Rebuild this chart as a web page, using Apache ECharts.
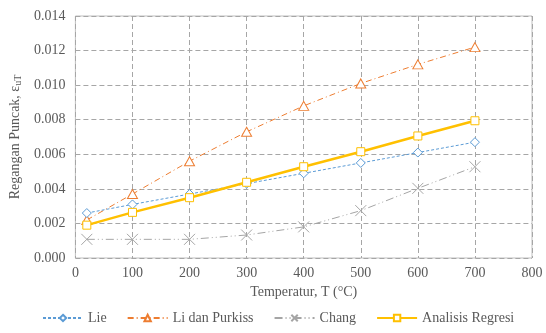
<!DOCTYPE html>
<html><head><meta charset="utf-8">
<script src="https://cdn.jsdelivr.net/npm/echarts@6/dist/echarts.min.js"></script>
<style>html,body{margin:0;padding:0;background:#fff}#c{width:546px;height:333px}</style>
</head><body><div id="c"></div>
<script>
const temps = [20, 100, 200, 300, 400, 500, 600, 700];
const lie = [0.0026, 0.0031, 0.0037, 0.0043, 0.0049, 0.0055, 0.0061, 0.0067];
const liPurkiss = [0.0022, 0.0037, 0.0056, 0.0073, 0.0088, 0.0101, 0.0112, 0.0122];
const chang = [0.00108, 0.00108, 0.00108, 0.00133, 0.0018, 0.00274, 0.00403, 0.00528];
const regresi = [0.0019, 0.00264, 0.00349, 0.00438, 0.00528, 0.00615, 0.00706, 0.00794];
const seriesNames = ['Lie', 'Li dan Purkiss', 'Chang', 'Analisis Regresi'];

const font = 'Liberation Serif, Times New Roman, serif';
const txt = '#595959';
const fs = 14;
const pairs = arr => temps.map((t, i) => [t, arr[i]]);
const hollow = c => ({ color: '#fff', borderColor: c, borderWidth: 1 });

const chart = echarts.init(document.getElementById('c'));
chart.setOption({
  animation: false,
  textStyle: { fontFamily: font },
  grid: { left: 73.5, right: 14, top: 16, bottom: 75, show: true, borderColor: '#bfbfbf', borderWidth: 1 },
  xAxis: {
    type: 'value', min: 0, max: 800, interval: 100,
    name: 'Temperatur, T (°C)', nameLocation: 'middle', nameGap: 25,
    nameTextStyle: { fontFamily: font, fontSize: fs, color: txt },
    axisLine: { show: false }, axisTick: { show: false },
    axisLabel: { fontFamily: font, fontSize: fs, color: txt, margin: 8 },
    splitLine: { lineStyle: { type: [5, 3], color: '#a6a6a6', width: 1 } }
  },
  yAxis: {
    type: 'value', min: 0, max: 0.014, interval: 0.002,
    name: '{a|Regangan Puncak, ε}{b|uT}', nameLocation: 'middle', nameGap: 43,
    nameTextStyle: { fontFamily: font, fontSize: fs, color: txt,
      rich: { a: { fontFamily: font, fontSize: fs, color: txt }, b: { fontFamily: font, fontSize: 10, color: txt, padding: [6, 0, 0, 0] } } },
    axisLine: { show: false }, axisTick: { show: false },
    axisLabel: { fontFamily: font, fontSize: fs, color: txt, margin: 10, formatter: v => v.toFixed(3) },
    splitLine: { lineStyle: { type: [5, 3], color: '#a6a6a6', width: 1 } }
  },
  legend: {
    bottom: 8, left: 42, padding: 0, itemWidth: 40, itemHeight: 8, itemGap: 20,
    textStyle: { fontFamily: font, fontSize: fs, color: txt },
    data: seriesNames
  },
  series: [
    { name: seriesNames[0], type: 'line', data: pairs(lie), symbol: 'diamond', symbolSize: 9,
      lineStyle: { color: '#5B9BD5', width: 1, type: [3, 2] }, itemStyle: hollow('#5B9BD5'), color: '#5B9BD5', z: 3 },
    { name: seriesNames[1], type: 'line', data: pairs(liPurkiss), symbol: 'triangle', symbolSize: [10, 9],
      lineStyle: { color: '#ED7D31', width: 1, type: [6, 3, 1, 3] }, itemStyle: hollow('#ED7D31'), color: '#ED7D31', z: 2 },
    { name: seriesNames[2], type: 'line', data: pairs(chang), symbol: 'path://M0,0L10,10M10,0L0,10', symbolSize: 11,
      lineStyle: { color: '#A5A5A5', width: 1, type: [8, 3, 1, 3, 1, 3] }, itemStyle: { color: 'none', borderColor: '#A5A5A5', borderWidth: 1 }, color: '#A5A5A5', z: 1 },
    { name: seriesNames[3], type: 'line', data: pairs(regresi), symbol: 'rect', symbolSize: 8,
      lineStyle: { color: '#FFC000', width: 2.5 }, itemStyle: hollow('#FFC000'), color: '#FFC000', z: 4 }
  ]
});
</script></body></html>
